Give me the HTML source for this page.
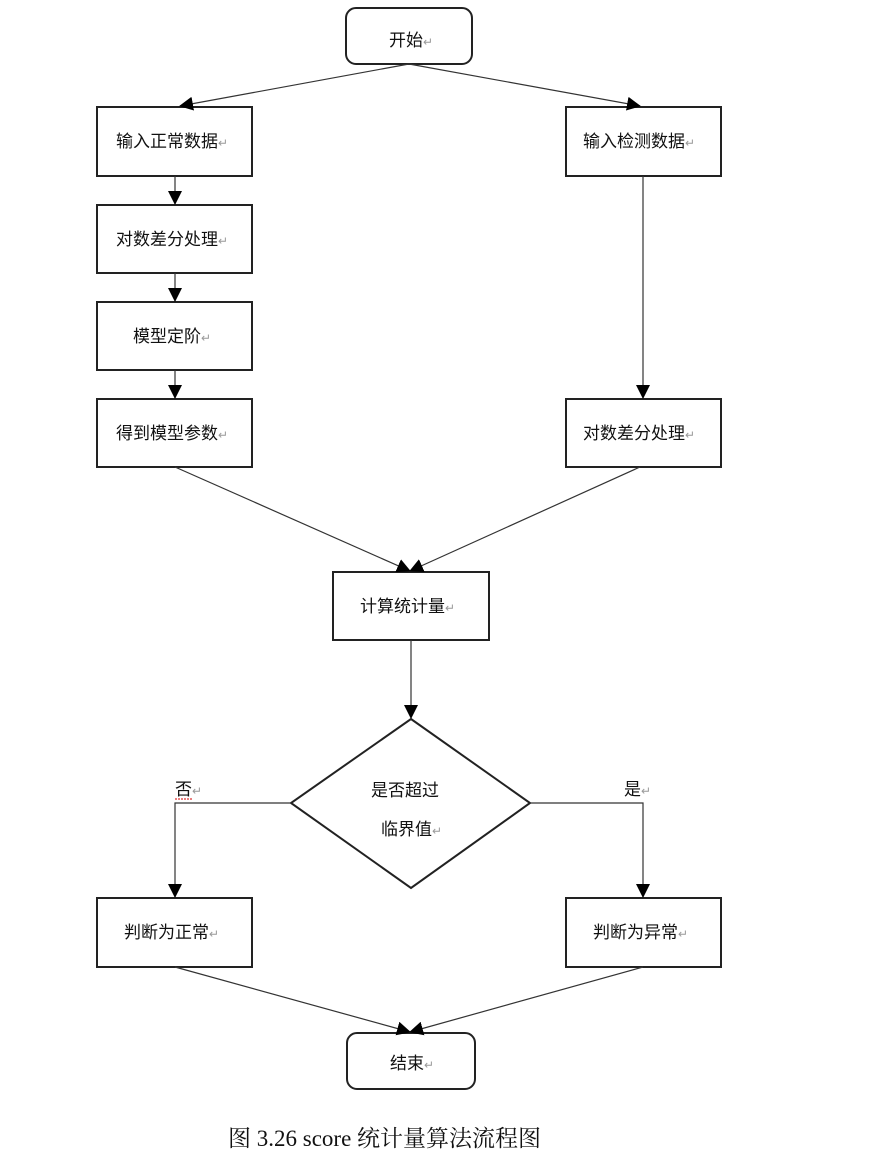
<!DOCTYPE html>
<html><head><meta charset="utf-8"><style>
body{margin:0;background:#fff}
svg text{font-family:"Liberation Sans","Noto Sans CJK SC",sans-serif;font-size:17px;fill:#111}
.r{font-size:12px;fill:#999}
</style></head><body>
<svg width="873" height="1165" viewBox="0 0 873 1165">
<defs><marker id="a" markerWidth="10" markerHeight="10" refX="9" refY="5" orient="auto" markerUnits="userSpaceOnUse"><path d="M0,0 L10,5 L0,10 Z" fill="#000"/></marker>
<marker id="b" markerWidth="14" markerHeight="14" refX="13" refY="7" orient="auto" markerUnits="userSpaceOnUse"><path d="M0,0 L14,7 L0,14 Z" fill="#000"/></marker></defs>
<g fill="#fff" stroke="#222" stroke-width="2">
<rect x="346" y="8" width="126" height="56" rx="10"/>
<rect x="97" y="107" width="155" height="69"/>
<rect x="97" y="205" width="155" height="68"/>
<rect x="97" y="302" width="155" height="68"/>
<rect x="97" y="399" width="155" height="68"/>
<rect x="566" y="107" width="155" height="69"/>
<rect x="566" y="399" width="155" height="68"/>
<rect x="333" y="572" width="156" height="68"/>
<path d="M411,719 L530,803 L411,888 L291,803 Z"/>
<rect x="97" y="898" width="155" height="69"/>
<rect x="566" y="898" width="155" height="69"/>
<rect x="347" y="1033" width="128" height="56" rx="10"/>
</g>
<g stroke="#333" stroke-width="1.2" fill="none">
<line x1="409" y1="64" x2="180" y2="106" marker-end="url(#b)"/>
<line x1="409" y1="64" x2="640" y2="106" marker-end="url(#b)"/>
<line x1="175" y1="176" x2="175" y2="204" marker-end="url(#b)"/>
<line x1="175" y1="273" x2="175" y2="301" marker-end="url(#b)"/>
<line x1="175" y1="370" x2="175" y2="398" marker-end="url(#b)"/>
<line x1="643" y1="176" x2="643" y2="398" marker-end="url(#b)"/>
<line x1="175" y1="467" x2="410" y2="571" marker-end="url(#b)"/>
<line x1="640" y1="467" x2="410" y2="571" marker-end="url(#b)"/>
<line x1="411" y1="640" x2="411" y2="718" marker-end="url(#b)"/>
<polyline points="291,803 175,803 175,897" marker-end="url(#b)"/>
<polyline points="530,803 643,803 643,897" marker-end="url(#b)"/>
<line x1="175" y1="967" x2="410" y2="1032" marker-end="url(#b)"/>
<line x1="643" y1="967" x2="410" y2="1032" marker-end="url(#b)"/>
</g>
<text x="389" y="46">开始<tspan class="r">↵</tspan></text>
<text x="116" y="147">输入正常数据<tspan class="r">↵</tspan></text>
<text x="116" y="245">对数差分处理<tspan class="r">↵</tspan></text>
<text x="133" y="342">模型定阶<tspan class="r">↵</tspan></text>
<text x="116" y="439">得到模型参数<tspan class="r">↵</tspan></text>
<text x="583" y="147">输入检测数据<tspan class="r">↵</tspan></text>
<text x="583" y="439">对数差分处理<tspan class="r">↵</tspan></text>
<text x="360" y="612">计算统计量<tspan class="r">↵</tspan></text>
<text x="371" y="796">是否超过</text>
<text x="381" y="835">临界值<tspan class="r">↵</tspan></text>
<text x="175" y="795">否<tspan class="r">↵</tspan></text>
<line x1="175" y1="799" x2="193" y2="799" stroke="#d33" stroke-width="1.2" stroke-dasharray="2,1"/>
<text x="624" y="795">是<tspan class="r">↵</tspan></text>
<text x="124" y="938">判断为正常<tspan class="r">↵</tspan></text>
<text x="593" y="938">判断为异常<tspan class="r">↵</tspan></text>
<text x="390" y="1069">结束<tspan class="r">↵</tspan></text>
<text x="228" y="1146" style="font-family:'Liberation Serif','Noto Serif CJK SC',serif;font-size:23px">图 3.26 score 统计量算法流程图</text>
</svg>
</body></html>
